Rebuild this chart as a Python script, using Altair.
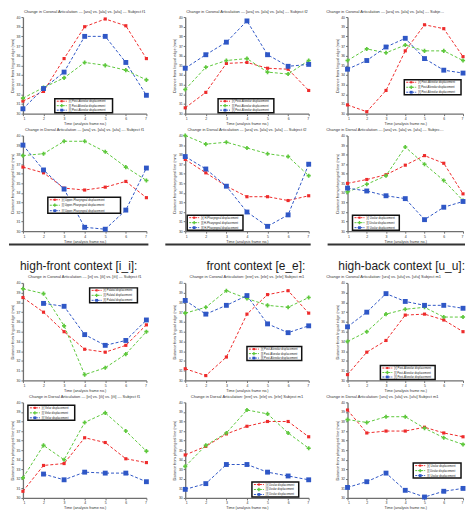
import altair as alt
import pandas as pd

frames = [1, 2, 3, 4, 5, 6, 7]
COLORS = ["#ee2b2b", "#5ec83c", "#2f57c6"]
SHAPES = ["square", "cross", "square"]
SIZES = [10, 24, 18]

headings = ["high-front context [i_i]:", "front context [e_e]:", "high-back context [u_u]:"]

# ---- row 1: coronal, [a] context
a1_red = [31.3, 32.3, 35.7, 39.0, 39.8, 39.1, 35.7]
a1_green = [31.6, 32.7, 33.7, 35.3, 35.0, 34.5, 33.5]
a1_blue = [30.5, 32.6, 34.3, 38.0, 38.0, 35.3, 31.9]
a2_red = [30.6, 32.2, 35.2, 35.3, 34.7, 34.6, 32.4]
a2_green = [32.5, 34.8, 35.5, 35.7, 34.3, 34.1, 35.5]
a2_blue = [34.7, 36.1, 37.4, 39.6, 36.1, 34.9, 35.1]
a3_red = [30.9, 30.2, 32.4, 36.5, 39.2, 38.8, 35.9]
a3_green = [35.5, 36.7, 36.3, 37.1, 36.5, 36.5, 35.5]
a3_blue = [34.6, 35.5, 36.9, 37.8, 35.7, 34.5, 34.2]
# ---- row 2: dorsal, [a] context
b1_red = [36.7, 36.1, 34.5, 34.3, 34.6, 35.2, 33.5]
b1_green = [37.9, 38.1, 39.4, 39.4, 38.3, 36.7, 35.3]
b1_blue = [39.0, 36.4, 34.4, 30.4, 30.2, 32.2, 36.6]
b2_red = [37.5, 36.1, 34.7, 33.6, 33.6, 33.2, 33.7]
b2_green = [40.0, 39.1, 39.3, 38.7, 38.1, 37.8, 35.8]
b2_blue = [37.8, 36.5, 34.7, 32.0, 30.5, 31.7, 37.0]
b3_red = [35.0, 35.4, 35.9, 36.9, 37.9, 37.1, 33.9]
b3_green = [34.1, 34.9, 35.8, 38.8, 37.0, 35.3, 33.2]
b3_blue = [34.5, 34.2, 33.7, 33.4, 31.2, 32.5, 33.1]
# ---- row 3: coronal, [i] [e] [u] contexts
c1_red = [38.5, 37.0, 35.0, 33.2, 32.9, 33.6, 35.7]
c1_green = [39.4, 38.9, 35.6, 30.6, 31.3, 32.7, 35.0]
c1_blue = [None, 37.9, 37.6, 34.7, 33.6, 34.1, 36.2]
c2_red = [31.2, 30.5, 32.4, 36.8, 38.8, 39.2, 36.9]
c2_green = [36.9, 37.5, 39.2, 38.4, 37.7, 37.5, 38.5]
c2_blue = [38.2, 36.8, 37.7, 38.7, 35.8, 34.9, 35.6]
c3_red = [30.6, 32.9, 34.1, 36.7, 36.8, 36.2, 35.0]
c3_green = [34.0, 35.0, 36.8, 37.3, 37.5, 36.5, 36.5]
c3_blue = [35.5, 37.0, 38.9, 38.1, 37.7, 37.7, 37.4]
# ---- row 4: dorsal, [i] [e] [u] contexts
d1_red = [30.7, 33.4, 33.6, 36.3, 35.8, 34.1, 33.7]
d1_green = [32.1, 35.5, 34.0, 37.9, 38.9, 37.0, 34.9]
d1_blue = [None, 32.5, 31.9, 32.7, 32.6, 32.6, 31.7]
d2_red = [34.5, 35.4, 36.7, 37.5, 38.0, 38.0, 36.4]
d2_green = [33.3, 35.5, 36.8, 39.2, 38.8, 36.8, 35.2]
d2_blue = [30.9, 31.5, 33.5, 33.5, 32.7, 32.3, 31.9]
d3_red = [39.2, 36.8, 37.0, 37.0, 37.4, 36.8, 36.4]
d3_green = [38.2, 37.9, 38.5, 38.5, 37.3, 36.3, 35.6]
d3_blue = [31.1, 31.7, 32.6, 30.8, 30.1, 30.7, 31.0]


def labs(kind):
    return [f"[r] {kind} displacement", f"[l] {kind} displacement", f"[\u026b] {kind} displacement"]


COR = "Distance from lingual edge (mm)"
DOR = "Distance from pharyngeal line (mm)"

# title, y title, legend labels, series, legend box (x, y, w, h)
panels = [
    ("Change in Coronal Articulation  ---  [ara]  vs. [ala] vs. [a\u026ba]  ---  Subject f1", COR, labs("Post-Alveolar"), (a1_red, a1_green, a1_blue), (32, 82, 58, 14)),
    ("Change in Coronal Articulation  ---  [ara]  vs. [ala] vs. [a\u026ba]  ---  Subject f2", COR, labs("Post-Alveolar"), (a2_red, a2_green, a2_blue), (33, 82, 56, 14)),
    ("Change in Coronal Articulation  ---  [ara]  vs. [ala] vs. [a\u026ba]  ---  Subject m1", COR, labs("Post-Alveolar"), (a3_red, a3_green, a3_blue), (57, 63, 57, 15)),
    ("Change in Dorsal Articulation  ---  [ara]  vs. [ala] vs. [a\u026ba]  ---  Subject f1", DOR, labs("Upper-Pharyngeal"), (b1_red, b1_green, b1_blue), (25, 62, 73, 16)),
    ("Change in Dorsal Articulation  ---  [ara]  vs. [ala] vs. [a\u026ba]  ---  Subject f2", DOR, labs("H-Pharyngeal"), (b2_red, b2_green, b2_blue), (2, 80, 56, 15)),
    ("Change in Dorsal Articulation  ---  [ara]  vs. [ala] vs. [a\u026ba]  ---  Subject m1", DOR, labs("Uvular"), (b3_red, b3_green, b3_blue), (5, 80, 47, 15)),
    ("Change in Coronal Articulation  ---  [iri]  vs. [ili] vs. [i\u026bi]  ---  Subject f1", COR, labs("Palatal"), (c1_red, c1_green, c1_blue), (67, 5, 48, 15)),
    ("Change in Coronal Articulation:   [ere]  vs. [ele] vs. [e\u026be]   Subject m1", COR, labs("Post-Alveolar"), (c2_red, c2_green, c2_blue), (62, 64, 55, 14)),
    ("Change in Coronal Articulation:   [uru]  vs. [ulu] vs. [u\u026bu]   Subject m1", COR, labs("Post-Alveolar"), (c3_red, c3_green, c3_blue), (33, 83, 55, 14)),
    ("Change in Dorsal Articulation  ---  [iri]  vs. [ili] vs. [i\u026bi]  ---  Subject f1", DOR, labs("Velar"), (d1_red, d1_green, d1_blue), (5, 3, 47, 15)),
    ("Change in Dorsal Articulation:   [ere]  vs. [ele] vs. [e\u026be]   Subject m1", DOR, labs("Uvular"), (d2_red, d2_green, d2_blue), (67, 80, 47, 15)),
    ("Change in Dorsal Articulation:   [uru]  vs. [ulu] vs. [u\u026bu]   Subject m1", DOR, labs("Uvular"), (d3_red, d3_green, d3_blue), (66, 61, 48, 15)),
]

COL_W = [124, 124, 116]
ROW_H = [97, 96, 98, 96]
FONT = "Liberation Sans"


def legend_box(labels, box):
    lx, ly, lw, lh = box
    d = pd.DataFrame({"k": [0]})
    layers = [alt.Chart(d).mark_rect(fill="white", stroke="#111", strokeWidth=1.5).encode(
        x=alt.value(lx), x2=alt.value(lx + lw), y=alt.value(ly), y2=alt.value(ly + lh))]
    step = (lh - 5) / 2
    for i in range(3):
        yy = ly + 2.5 + i * step
        layers.append(alt.Chart(d).mark_rule(color=COLORS[i], strokeDash=[2, 1], strokeWidth=1).encode(
            x=alt.value(lx + 2), x2=alt.value(lx + 12), y=alt.value(yy)))
        layers.append(alt.Chart(d).mark_point(shape=SHAPES[i], filled=True, color=COLORS[i],
                                              size=SIZES[i] * 0.45, opacity=1).encode(
            x=alt.value(lx + 7), y=alt.value(yy)))
        layers.append(alt.Chart(d).mark_text(text=labels[i], fontSize=2.8, font=FONT, color="#222",
                                             align="left", baseline="middle").encode(
            x=alt.value(lx + 14), y=alt.value(yy)))
    return layers


def panel(title, ytitle, labels, series, box, w, h, last_col):
    rows = []
    for sid, (lab, vals) in enumerate(zip(labels, series)):
        for f, v in zip(frames, vals):
            if v is None:
                continue
            rows.append({"frame": f, "value": v, "series": lab, "sid": sid})
    df = pd.DataFrame(rows)
    base = alt.Chart(df).encode(
        x=alt.X("frame:Q", scale=alt.Scale(domain=[1, 7], nice=False),
                axis=alt.Axis(values=frames, title="Time (analysis frame no.)", format="d")),
        y=alt.Y("value:Q", scale=alt.Scale(domain=[30, 40], nice=False),
                axis=alt.Axis(values=[30, 31, 32, 33, 34, 35, 36, 37, 38, 39, 40], title=ytitle)),
        color=alt.Color("series:N", scale=alt.Scale(domain=labels, range=COLORS), legend=None),
    )
    line = base.mark_line(strokeDash=[3, 2], strokeWidth=1).encode(detail="series:N")
    pts = base.mark_point(filled=True, opacity=1).encode(
        shape=alt.Shape("sid:N", scale=alt.Scale(domain=[0, 1, 2], range=SHAPES), legend=None),
        size=alt.Size("sid:N", scale=alt.Scale(domain=[0, 1, 2], range=SIZES), legend=None),
    )
    if last_col:
        tp = alt.TitleParams(title, fontSize=4, font=FONT, fontWeight="normal", color="#333",
                             offset=1.5, anchor="start", dx=-9, limit=w + 9)
    else:
        tp = alt.TitleParams(title, fontSize=4, font=FONT, fontWeight="normal", color="#333", offset=1.5)
    return alt.layer(line, pts, *legend_box(labels, box)).properties(width=w, height=h, title=tp)


def mid(text, j):
    w = COL_W[j]
    d = pd.DataFrame({"t": [text]})
    x1 = -14 if j == 0 else -20
    rule = alt.Chart(d).mark_rule(color="#333", strokeWidth=2).encode(
        x=alt.value(x1), x2=alt.value(w + 2), y=alt.value(-8.5))
    if j == 0:
        txt_mark = alt.Chart(d).mark_text(fontSize=12, font=FONT, color="#1c1c1c", baseline="middle",
                                          align="center", dx=-6)
        xpos = w / 2
    elif j == 1:
        txt_mark = alt.Chart(d).mark_text(fontSize=12, font=FONT, color="#1c1c1c", baseline="middle",
                                          align="center", dx=9)
        xpos = w / 2
    else:
        txt_mark = alt.Chart(d).mark_text(fontSize=12, font=FONT, color="#1c1c1c", baseline="middle",
                                          align="right")
        xpos = w + 2
    txt = txt_mark.encode(text="t:N", x=alt.value(xpos), y=alt.value(13))
    return alt.layer(rule, txt).properties(width=w, height=8)


cells = []
for i in range(6):
    t, yt, lb, s, bx = panels[i]
    cells.append(panel(t, yt, lb, s, bx, COL_W[i % 3], ROW_H[i // 3], i % 3 == 2))
for j in range(3):
    cells.append(mid(headings[j], j))
for i in range(6, 12):
    t, yt, lb, s, bx = panels[i]
    cells.append(panel(t, yt, lb, s, bx, COL_W[i % 3], ROW_H[i // 3], i % 3 == 2))

chart = alt.concat(*cells, columns=3, spacing={"row": 22, "column": 39}).properties(
    bounds="flush", padding={"left": 0, "top": 0, "right": 0, "bottom": 0}
).resolve_scale(color="independent").configure_view(stroke=None).configure_axis(
    grid=False, domainColor="#6f6f6f", domainWidth=1.3, tickColor="#6f6f6f", tickSize=2,
    labelFontSize=3.5, labelFont=FONT, labelColor="#333", labelPadding=1,
    titleFontSize=3.8, titleFont=FONT, titleFontWeight="normal", titleColor="#333", titlePadding=1.5,
)

chart.save("out.html", embed_options={"renderer": "svg", "actions": False})
